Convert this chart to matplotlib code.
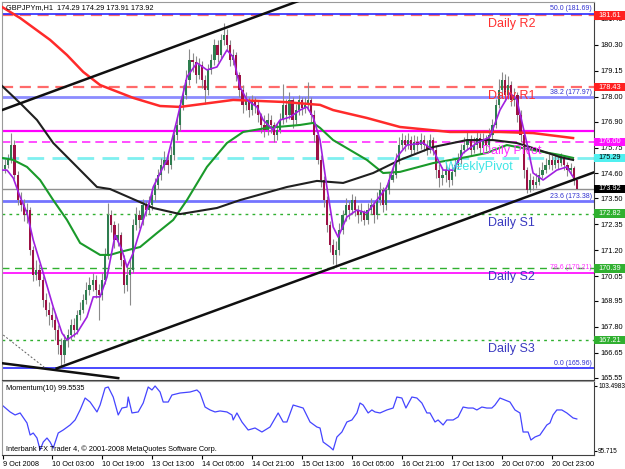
import matplotlib
matplotlib.use('Agg')
import matplotlib.pyplot as plt
import matplotlib.transforms as mtransforms
from matplotlib.patches import Rectangle

plt.rcParams['font.family'] = ['Liberation Sans', 'DejaVu Sans']

# ---- GBPJPYm H1 bars (bar index 0 = first visible bar) ----
first_open = 174.80
closes = [174.98, 175.20, 175.86, 174.53, 173.42, 173.20, 172.76, 172.98, 171.21, 170.10,
          170.32, 169.88, 168.99, 168.55, 168.33, 168.11, 167.66, 167.00, 166.56, 167.22,
          167.44, 167.88, 167.66, 168.33, 168.55, 168.99, 169.44, 169.66, 169.88, 169.44,
          169.22, 169.88, 170.99, 172.76, 172.32, 171.65, 171.87, 170.77, 169.66, 170.10,
          170.32, 172.32, 172.76, 172.54, 173.20, 172.98, 173.20, 173.65, 174.09, 174.53,
          174.98, 175.20, 174.98, 175.42, 176.31, 176.75, 177.64, 178.08, 178.74, 179.63,
          179.54, 178.97, 179.41, 178.74, 178.30, 179.19, 179.63, 180.30, 179.85, 180.52,
          180.74, 180.30, 179.63, 179.85, 178.97, 178.30, 177.64, 177.86, 177.41, 177.86,
          177.64, 177.19, 176.75, 176.53, 176.97, 176.75, 176.31, 176.53, 176.97, 177.64,
          177.19, 177.86, 176.97, 177.41, 177.86, 177.50, 177.64, 177.86, 177.19, 176.31,
          175.20, 174.31, 173.42, 172.32, 171.43, 170.99, 171.21, 172.09, 172.76, 173.20,
          172.98, 173.42, 172.98, 172.76, 172.89, 172.54, 172.98, 173.20, 172.76, 173.42,
          173.87, 173.20, 173.87, 174.31, 174.53, 175.20, 175.86, 176.08, 175.86, 176.08,
          175.64, 176.00, 175.86, 176.08, 175.86, 175.64, 176.08, 175.64, 174.75, 174.40,
          174.53, 174.75, 174.31, 174.67, 174.98, 175.20, 175.64, 175.86, 176.08, 175.64,
          175.86, 176.17, 175.73, 176.08, 175.86, 176.31, 176.75, 177.64, 178.30, 178.74,
          178.08, 178.52, 177.86, 178.08, 177.19, 176.31, 174.75, 173.87, 174.31, 174.09,
          174.22, 174.53, 174.75, 174.98, 175.20, 174.98, 175.20, 175.06, 175.29, 174.98,
          174.75, 174.84, 174.29, 173.92]
highs = [175.25, 175.45, 176.40, 176.10, 174.70, 173.80, 173.45, 173.30, 173.10, 171.40,
         170.75, 170.60, 170.05, 169.30, 168.90, 168.70, 168.40, 167.90, 167.30, 167.50,
         167.70, 168.15, 168.20, 168.55, 168.90, 169.25, 169.80, 170.00, 170.20, 170.10,
         169.70, 170.20, 171.30, 173.30, 173.00, 172.50, 172.40, 172.00, 171.00, 170.50,
         170.80, 172.60, 173.10, 173.00, 173.45, 173.40, 173.60, 173.95, 174.40, 174.80,
         175.30, 175.60, 175.45, 175.80, 176.60, 177.10, 177.90, 178.50, 179.20, 180.10,
         179.95, 179.80, 179.70, 179.60, 178.95, 179.45, 179.90, 180.55, 180.50, 180.80,
         181.27, 181.00, 180.50, 180.10, 180.00, 179.10, 178.50, 178.20, 178.00, 178.10,
         178.00, 177.80, 177.30, 177.20, 177.30, 177.20, 176.90, 176.80, 177.30, 178.55,
         177.90, 178.20, 178.00, 177.70, 178.10, 178.00, 178.00, 178.65, 178.00, 177.40,
         176.50, 175.40, 174.50, 173.60, 172.50, 171.70, 171.60, 172.40, 173.00, 173.50,
         173.40, 173.70, 173.60, 173.20, 173.30, 173.00, 173.30, 173.50, 173.40, 173.80,
         174.20, 174.00, 174.10, 174.60, 174.90, 175.50, 176.20, 176.40, 176.30, 176.40,
         176.25, 176.30, 176.25, 176.40, 176.30, 176.10, 176.35, 176.20, 175.80, 175.00,
         174.90, 175.10, 174.90, 175.00, 175.30, 175.50, 175.90, 176.20, 176.50, 176.30,
         176.20, 176.50, 176.40, 176.40, 176.30, 176.60, 177.00, 177.90, 178.80, 179.10,
         179.00, 178.90, 178.70, 178.40, 178.20, 177.40, 176.50, 174.90, 174.60, 174.50,
         174.60, 174.90, 175.10, 175.30, 175.45, 175.40, 175.45, 175.40, 175.50, 175.40,
         175.10, 175.05, 174.95, 174.29]
lows = [174.60, 174.85, 175.05, 174.35, 173.20, 172.95, 172.50, 172.40, 171.00, 169.85,
        169.90, 169.60, 168.70, 168.30, 167.90, 167.80, 167.20, 166.60, 165.96, 166.20,
        166.90, 167.20, 167.35, 167.50, 168.10, 168.40, 168.80, 169.20, 169.40, 169.10,
        168.10, 169.00, 169.70, 170.80, 172.00, 171.30, 171.40, 170.50, 169.30, 169.40,
        168.75, 170.20, 172.10, 172.20, 172.30, 172.70, 172.80, 173.00, 173.40, 173.90,
        174.30, 174.75, 174.60, 174.80, 175.20, 176.10, 176.50, 177.40, 177.90, 178.50,
        179.10, 178.60, 178.80, 178.40, 177.70, 178.10, 179.00, 179.40, 179.55, 179.70,
        180.30, 180.05, 179.35, 179.40, 178.70, 178.00, 177.30, 177.40, 177.10, 177.20,
        177.30, 176.90, 176.40, 176.20, 176.30, 176.40, 176.00, 176.10, 176.40, 176.80,
        176.90, 177.00, 176.60, 176.80, 177.20, 177.20, 177.30, 177.40, 176.90, 176.00,
        175.00, 174.00, 173.10, 172.00, 171.10, 170.60, 170.45, 171.00, 171.90, 172.50,
        172.60, 172.80, 172.70, 172.40, 172.50, 172.30, 172.35, 172.80, 172.40, 172.60,
        173.20, 172.90, 173.00, 173.70, 174.20, 174.40, 175.00, 175.70, 175.60, 175.70,
        175.40, 175.50, 175.60, 175.70, 175.60, 175.40, 175.50, 175.40, 174.40, 174.00,
        174.10, 174.20, 174.00, 174.10, 174.50, 174.80, 175.00, 175.50, 175.70, 175.40,
        175.50, 175.70, 175.50, 175.60, 175.60, 175.70, 176.10, 176.60, 177.50, 178.10,
        177.80, 177.90, 177.60, 177.60, 176.90, 176.00, 174.40, 173.75, 173.80, 173.85,
        173.95, 174.10, 174.40, 174.60, 174.80, 174.75, 174.85, 174.80, 174.95, 174.75,
        174.50, 174.55, 174.10, 173.91]

# ---- moving averages (bar index, price) ----
red_x = [-1, 4.8, 14.4, 19.8, 25.0, 30.4, 41.0, 49.6, 56.0, 73.0, 89.0, 100.8, 105.0, 115.8,
         126.4, 142.4, 158.4, 169.0, 181.8]
red_y = [181.98, 181.49, 180.52, 179.85, 179.10, 178.52, 177.95, 177.59, 177.55, 177.86,
         177.77, 177.64, 177.41, 177.06, 176.66, 176.44, 176.44, 176.39, 176.17]
black_x = [-1, 4.8, 10.2, 15.4, 21.8, 29.4, 33.6, 43.2, 47.4, 56.0, 67.8, 75.2, 90.2, 99.8,
           108.2, 117.8, 126.4, 137.0, 147.8, 156.2, 163.8, 168.9, 177.6, 181.8]
black_y = [178.48, 177.72, 176.97, 175.95, 175.06, 174.00, 173.91, 173.33, 173.07, 172.80,
           173.07, 173.42, 174.00, 174.27, 174.18, 174.62, 175.20, 175.77, 176.08, 176.08,
           175.95, 175.73, 175.33, 175.20]
green_x = [-1, 2.6, 7.0, 11.2, 15.4, 19.8, 24.0, 30.4, 33.6, 36.8, 43.2, 48.6, 53.8, 58.2,
           64.6, 71.0, 76.2, 83.8, 94.4, 98.6, 100.8, 105.0, 110.4, 115.8, 121.0, 126.4,
           137.0, 147.8, 154.2, 160.6, 168.9, 177.6, 181.8]
green_y = [175.29, 175.20, 174.89, 174.31, 173.42, 172.54, 171.52, 170.99, 170.99, 171.12,
           171.34, 171.96, 172.54, 173.42, 174.89, 175.95, 176.44, 176.62, 176.75, 176.84,
           176.62, 176.08, 175.64, 175.20, 174.62, 174.67, 175.06, 175.33, 175.51, 175.86,
           175.64, 175.42, 175.29]
purple_x = [-1, 0.6, 2.6, 4.8, 7.0, 9.0, 12.2, 15.4, 18.2, 19.8, 23.0, 26.2, 28.2, 30.4,
            32.6, 35.2, 37.4, 39.0, 41.0, 44.2, 46.4, 47.4, 50.6, 51.8, 55.0, 58.2, 61.4,
            64.6, 67.8, 71.0, 73.0, 75.2, 77.4, 80.6, 82.6, 85.8, 88.0, 91.2, 94.4, 96.6,
            98.6, 100.8, 103.0, 105.0, 106.6, 109.4, 112.6, 115.8, 119.0, 122.2, 125.4,
            128.6, 133.8, 137.0, 140.2, 143.4, 146.6, 151.0, 155.2, 158.4, 161.6, 163.8,
            167.0, 169.0, 172.2, 176.6, 179.8, 181.8]
purple_y = [174.75, 174.75, 174.40, 173.56, 172.85, 171.65, 170.19, 168.68, 167.53, 167.22,
            167.53, 168.24, 169.13, 169.13, 170.01, 171.87, 171.21, 170.45, 171.08, 172.54,
            173.42, 174.00, 174.89, 175.20, 176.97, 178.88, 179.50, 179.19, 179.32, 180.07,
            179.76, 178.43, 177.86, 177.55, 176.97, 176.53, 176.97, 177.10, 177.41, 177.55,
            177.10, 176.08, 174.00, 172.23, 171.78, 172.67, 172.98, 172.85, 173.42, 174.00,
            175.33, 175.86, 175.95, 175.64, 174.75, 174.75, 175.51, 175.95, 176.22, 177.41,
            178.17, 177.86, 175.95, 174.62, 174.31, 174.75, 174.89, 174.45]

# ---- trend lines (bar index, price) ----
channel_top = ([-1, 95], [177.41, 182.30])
channel_bottom = ([16.5, 188.5], [165.96, 174.65])
old_support = ([-1, 36.2], [166.19, 165.53])
dotted_line = ([-0.6, 12.8], [167.44, 165.98])

# ---- pivots, fibonacci, current price ----
pivot_names = ['Daily R2', 'Daily R1', 'Daily Pivot', 'WeeklyPivot', 'Daily S1', 'Daily S2', 'Daily S3']
pivot_vals = [181.61, 178.43, 176.00, 175.29, 172.82, 170.39, 167.21]
fib_names = ['50.0', '38.2', '23.6', '78.6', '0.0']
fib_vals = [181.69, 177.97, 173.38, 170.21, 165.96]
magenta_line = 176.47
last_price = 173.92

price_ticks = [181.45, 180.30, 179.15, 178.00, 176.90, 175.75, 174.60, 173.50, 172.35,
               171.20, 170.05, 168.95, 167.80, 166.65, 165.55]

# ---- Momentum(10) ----
mom_x = [-1, 1.6, 3.2, 4.8, 7.0, 8.0, 9.0, 10.2, 11.2, 12.2, 13.4, 14.4, 15.4, 17.0, 18.6,
         20.8, 22.4, 24.0, 25.6, 27.2, 29.4, 30.4, 32.0, 33.0, 34.6, 36.2, 37.4, 39.0, 39.4,
         40.6, 42.6, 44.2, 45.8, 47.0, 48.0, 49.6, 50.6, 52.2, 53.4, 56.0, 59.2, 61.4, 62.4,
         64.0, 65.6, 67.2, 68.8, 71.0, 72.6, 73.0, 74.2, 75.8, 77.8, 80.0, 82.2, 84.8, 87.4,
         89.0, 90.2, 92.2, 95.4, 97.6, 99.8, 100.8, 101.8, 104.0, 105.0, 106.2, 107.8, 109.4,
         111.0, 112.6, 113.6, 114.6, 116.2, 117.4, 118.4, 120.0, 122.2, 124.2, 125.4, 127.0,
         128.3, 130.2, 131.8, 133.4, 135.0, 136.0, 137.6, 138.6, 140.2, 141.4, 143.4, 145.0,
         146.6, 148.2, 149.8, 151.0, 152.6, 154.2, 155.8, 156.8, 158.4, 160.0, 161.6, 163.2,
         164.8, 165.8, 167.4, 168.3, 169.6, 171.2, 173.4, 174.4, 175.4, 176.6, 178.2, 179.8,
         181.8, 183.0]
mom_v = [101.22, 100.39, 100.03, 100.27, 99.07, 97.63, 97.87, 97.27, 95.84, 96.79, 97.27,
         96.79, 96.07, 97.87, 98.23, 98.83, 99.43, 100.63, 102.06, 101.58, 100.39, 101.22,
         103.26, 103.38, 102.18, 100.03, 100.86, 100.98, 102.18, 100.27, 100.39, 101.46,
         103.38, 103.02, 103.50, 102.78, 101.58, 101.58, 102.42, 102.66, 102.78, 103.02,
         102.66, 100.98, 100.63, 100.39, 100.51, 100.39, 100.03, 99.43, 100.27, 99.19, 98.23,
         98.47, 97.99, 98.59, 100.27, 99.19, 99.19, 101.22, 100.86, 99.19, 98.59, 98.47,
         96.79, 96.19, 95.84, 97.39, 97.99, 99.19, 99.43, 100.27, 101.46, 101.22, 100.27,
         100.63, 100.39, 100.27, 100.63, 100.86, 102.18, 102.06, 100.86, 102.18, 102.06,
         101.46, 100.27, 100.27, 99.19, 99.43, 98.83, 99.43, 99.43, 99.79, 100.98, 100.86,
         100.86, 100.63, 100.98, 100.86, 100.86, 101.22, 102.06, 101.82, 101.58, 100.63,
         100.27, 97.99, 97.99, 97.03, 97.39, 97.63, 98.83, 99.07, 100.03, 100.63, 100.63,
         100.27, 99.67, 99.55]

time_ticks = [-0.6, 15, 31, 47, 63, 79, 95, 111, 127, 143, 159, 175]
time_labels = ['9 Oct 2008', '10 Oct 03:00', '10 Oct 19:00', '13 Oct 13:00', '14 Oct 05:00',
               '14 Oct 21:00', '15 Oct 13:00', '16 Oct 05:00', '16 Oct 21:00', '17 Oct 13:00',
               '20 Oct 07:00', '20 Oct 23:00']

small = 5.3

fig = plt.figure(figsize=(6.25, 4.69), dpi=100)
ax = fig.add_axes([2/625, 1 - 380/469, 592/625, 378/469])
ax2 = fig.add_axes([2/625, 1 - 455/469, 592/625, 74/469])

# horizontal levels
pivot_styles = [('#ff6a6a', (5, 3), 1.6), ('#ff6a6a', (5, 3), 1.6), ('#ff30ff', (5, 3), 1.2),
                ('#7ff0f0', (6, 3), 2.0), ('#30b030', (2, 3), 1.0), ('#30b030', (5, 4), 1.0),
                ('#30b030', (2, 3), 1.0)]
for v, (c, d, w) in zip(pivot_vals, pivot_styles):
    ax.axhline(v, color=c, lw=w, dashes=d, zorder=1)
fib_colors = ['#2a2aff', '#8c8cff', '#7474ff', '#ff00ff', '#2a2aff']
fib_widths = [1.2, 2.0, 2.0, 1.2, 1.2]
for v, c, w in zip(fib_vals, fib_colors, fib_widths):
    ax.axhline(v, color=c, lw=w, zorder=1)
ax.axhline(magenta_line, color='#ff00ff', lw=1.6, zorder=1)
ax.axhline(last_price, color='#909090', lw=1.0, zorder=1)

# candles
idx = list(range(len(closes)))
opens = [first_open] + closes[:-1]
body_col = ['#2e7d4f' if c >= o else '#9c1145' for o, c in zip(opens, closes)]
ax.vlines(idx, lows, highs, color='#8a8a8a', lw=0.8, zorder=2)
ax.bar(idx, [c - o for o, c in zip(opens, closes)], bottom=opens, width=0.7,
       color=body_col, linewidth=0, zorder=2.5)

# moving averages
ax.plot(red_x, red_y, color='#ff2a2a', lw=1.8, zorder=3)
ax.plot(green_x, green_y, color='#1a9a2a', lw=1.5, zorder=3)
ax.plot(black_x, black_y, color='#202020', lw=1.5, zorder=3)
ax.plot(purple_x, purple_y, color='#a020e0', lw=1.2, zorder=3.5)

# trend lines
ax.plot(*channel_top, color='#101010', lw=1.8, zorder=4)
ax.plot(*channel_bottom, color='#101010', lw=1.8, zorder=4)
ax.plot(*old_support, color='#101010', lw=1.8, zorder=4)
ax.plot(*dotted_line, color='#606060', lw=0.7, ls=(0, (2, 2)), zorder=4)

ax.set_xlim(-1, 188.5)
ax.set_ylim(165.446, 182.20)

# pivot labels
lab_x = [154.6, 154.6, 152.6, 140.8, 154.6, 154.6, 154.6]
lab_col = ['#ff3030', '#ff3030', '#ff30ff', '#40e6e6', '#3a3ac0', '#3a3ac0', '#3a3ac0']
for name, v, x, c in zip(pivot_names, pivot_vals, lab_x, lab_col):
    ax.text(x, v - 0.40, name, color=c, fontsize=9, ha='left', va='center', zorder=5)

# fib labels
fib_lab_col = ['#3030d0', '#3030d0', '#3030d0', '#ff30ff', '#3030d0']
for name, v, c in zip(fib_names, fib_vals, fib_lab_col):
    ax.text(187.8, v + 0.06, f'{name} ({v:.2f})', color=c, fontsize=small - 0.3,
            ha='right', va='bottom', zorder=5)

# price axis
ax.yaxis.tick_right()
ax.set_yticks(price_ticks)
ax.set_yticklabels([f'{v:.2f}' for v in price_ticks])
ax.tick_params(axis='y', labelsize=small, length=3, width=0.8, pad=1.5, colors='black')
ax.set_xticks([])

# price tags at the right edge
tag_vals = [181.61, 178.43, 176.00, 175.29, 173.92, 172.82, 170.39, 167.21]
tag_face = ['#ff2020', '#ff2020', '#ff10ff', '#50f0f0', '#000000', '#30b030', '#30b030', '#30b030']
tag_text = ['white', 'white', 'white', '#000000', 'white', 'white', 'white', 'white']
blend = mtransforms.blended_transform_factory(ax.transAxes, ax.transData)
for v, fc, tc in zip(tag_vals, tag_face, tag_text):
    ax.add_patch(Rectangle((1.0, v - 0.19), 31/592, 0.38, transform=blend,
                           facecolor=fc, edgecolor='none', clip_on=False, zorder=10))
    ax.text(1 + 4/592, v, f'{v:.2f}', transform=blend, color=tc, fontsize=small,
            ha='left', va='center', clip_on=False, zorder=11)

ax.annotate('GBPJPYm,H1  174.29 174.29 173.91 173.92', xy=(0, 1), xycoords='axes fraction',
            xytext=(4, -6), textcoords='offset pixels', fontsize=small, va='center', ha='left')

for s in ['left', 'top']:
    ax.spines[s].set_color('#9a9a9a')
for s in ['right', 'bottom']:
    ax.spines[s].set_color('#404040')

# momentum window
ax2.plot(mom_x, mom_v, color='#4545ff', lw=0.9)
ax2.set_xlim(-1, 188.5)
ax2.set_ylim(95.236, 104.097)
ax2.yaxis.tick_right()
ax2.set_yticks([95.715, 103.4983])
ax2.set_yticklabels(['95.715', '103.4983'])
ax2.tick_params(axis='y', labelsize=4.7, length=2, width=0.8, pad=1)
ax2.set_xticks(time_ticks)
ax2.set_xticklabels(time_labels, ha='left')
ax2.tick_params(axis='x', labelsize=small, length=3, width=0.8, pad=1)
ax2.annotate('Momentum(10) 99.5535', xy=(0, 1), xycoords='axes fraction', xytext=(4, -7),
             textcoords='offset pixels', fontsize=small, va='center', ha='left')
ax2.annotate('Interbank FX Trader 4, \u00a9 2001-2008 MetaQuotes Software Corp.', xy=(0, 0),
             xycoords='axes fraction', xytext=(4, 6), textcoords='offset pixels',
             fontsize=small, va='center', ha='left')
for s in ['left', 'top']:
    ax2.spines[s].set_color('#9a9a9a')
for s in ['right', 'bottom']:
    ax2.spines[s].set_color('#404040')

fig.savefig('out.png', dpi=100)
